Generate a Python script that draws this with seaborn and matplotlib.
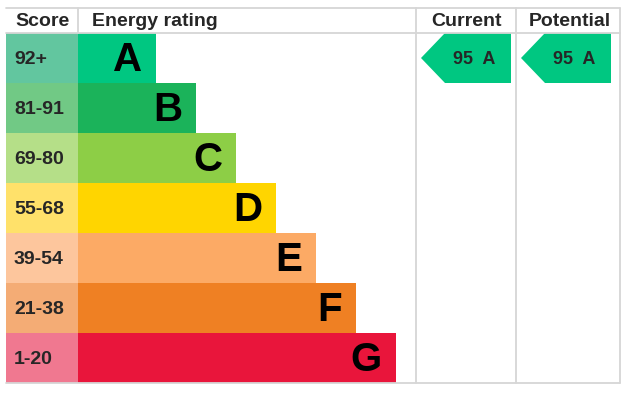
import numpy as np
import matplotlib.pyplot as plt
from matplotlib.patches import Polygon
import seaborn as sns

# Data
bands = ["A", "B", "C", "D", "E", "F", "G"]
score_ranges = ["92+", "81-91", "69-80", "55-68", "39-54", "21-38", "1-20"]
current_score = 95
current_band = "A"
potential_score = 95
potential_band = "A"

# Colours
bar_colors = ["#00c781", "#1bb35a", "#8dce46", "#ffd500", "#fcaa65", "#ef8023", "#e9153b"]
score_colors = ["#62c69f", "#71c985", "#b5df88", "#ffe16a", "#fdc69d", "#f4ac75", "#f07890"]
grid_color = "#d6d6d6"

sns.set_style("white")
plt.rcParams["font.family"] = ["Liberation Sans", "DejaVu Sans"]

W, H = 639, 403
fig = plt.figure(figsize=(W / 100, H / 100), dpi=100)

left, right, top, head, bottom = 6, 620, 8, 33, 383
col_score, col_cur, col_pot = 78, 416, 516
row_h = (bottom - head) / len(bands)


def px_axes(x0, x1):
    return fig.add_axes([x0 / W, (H - bottom) / H, (x1 - x0) / W, (bottom - head) / H])


# score column as full-width bars
ax_s = px_axes(left, col_score)
sns.barplot(x=np.ones(len(bands)), y=score_ranges, orient="h", width=1.0,
            palette=score_colors, hue=score_ranges, legend=False, ax=ax_s,
            linewidth=0, saturation=1)
ax_s.set_xlim(0, 1)
ax_s.set_ylim(len(bands) - 0.5, -0.5)
ax_s.axis("off")

# rating bars
lengths = 78 + 40 * np.arange(len(bands))
ax_b = px_axes(col_score, col_cur)
sns.barplot(x=lengths, y=bands, orient="h", width=1.0, palette=bar_colors,
            hue=bands, legend=False, ax=ax_b, linewidth=0, saturation=1)
ax_b.set_xlim(0, col_cur - col_score)
ax_b.set_ylim(len(bands) - 0.5, -0.5)
ax_b.axis("off")
for i, b in enumerate(bands):
    ax_b.text(lengths[i] - 14, i + 0.04, b, ha="right", va="center",
              fontsize=29, fontweight="bold", color="black")

# pixel-space overlay for the frame and text
ax = fig.add_axes([0, 0, 1, 1], zorder=5)
ax.set_xlim(0, W)
ax.set_ylim(H, 0)
ax.axis("off")
ax.patch.set_alpha(0)

# grid lines
lw = 1.3
ax.plot([left, right], [top, top], color=grid_color, lw=lw)
ax.plot([left, right], [head, head], color=grid_color, lw=lw)
ax.plot([left, right], [bottom, bottom], color=grid_color, lw=lw)
ax.plot([col_score, col_score], [top, head], color=grid_color, lw=lw)
for x in [col_cur, col_pot, right]:
    ax.plot([x, x], [top, bottom], color=grid_color, lw=lw)

# headers
hy = (top + head) / 2 + 1
fs = 14
ax.text((left + col_score) / 2, hy, "Score", ha="center", va="center",
        fontsize=fs, fontweight="bold")
ax.text(92, hy, "Energy rating", ha="left", va="center", fontsize=fs, fontweight="bold")
ax.text((col_cur + col_pot) / 2, hy, "Current", ha="center", va="center",
        fontsize=fs, fontweight="bold")
ax.text((col_pot + right) / 2 + 2, hy, "Potential", ha="center", va="center",
        fontsize=fs, fontweight="bold")

# score labels
for i, s in enumerate(score_ranges):
    ax.text(14, head + row_h * (i + 0.5) + 1, s, ha="left", va="center",
            fontsize=fs, fontweight="bold")


# current / potential arrows
def arrow(x0, score, band):
    i = bands.index(band)
    y0 = head + row_h * i
    y1 = y0 + row_h
    tip = x0 + 5
    body = x0 + 29
    end = x0 + 95
    poly = Polygon([[tip, (y0 + y1) / 2], [body, y0], [end, y0], [end, y1], [body, y1]],
                   closed=True, facecolor=bar_colors[i], edgecolor="none")
    ax.add_patch(poly)
    ax.text(x0 + 58, (y0 + y1) / 2 + 1, f"{score}  {band}", ha="center",
            va="center", fontsize=13, fontweight="bold")


arrow(col_cur, current_score, current_band)
arrow(col_pot, potential_score, potential_band)

fig.savefig("out.png", dpi=100)
